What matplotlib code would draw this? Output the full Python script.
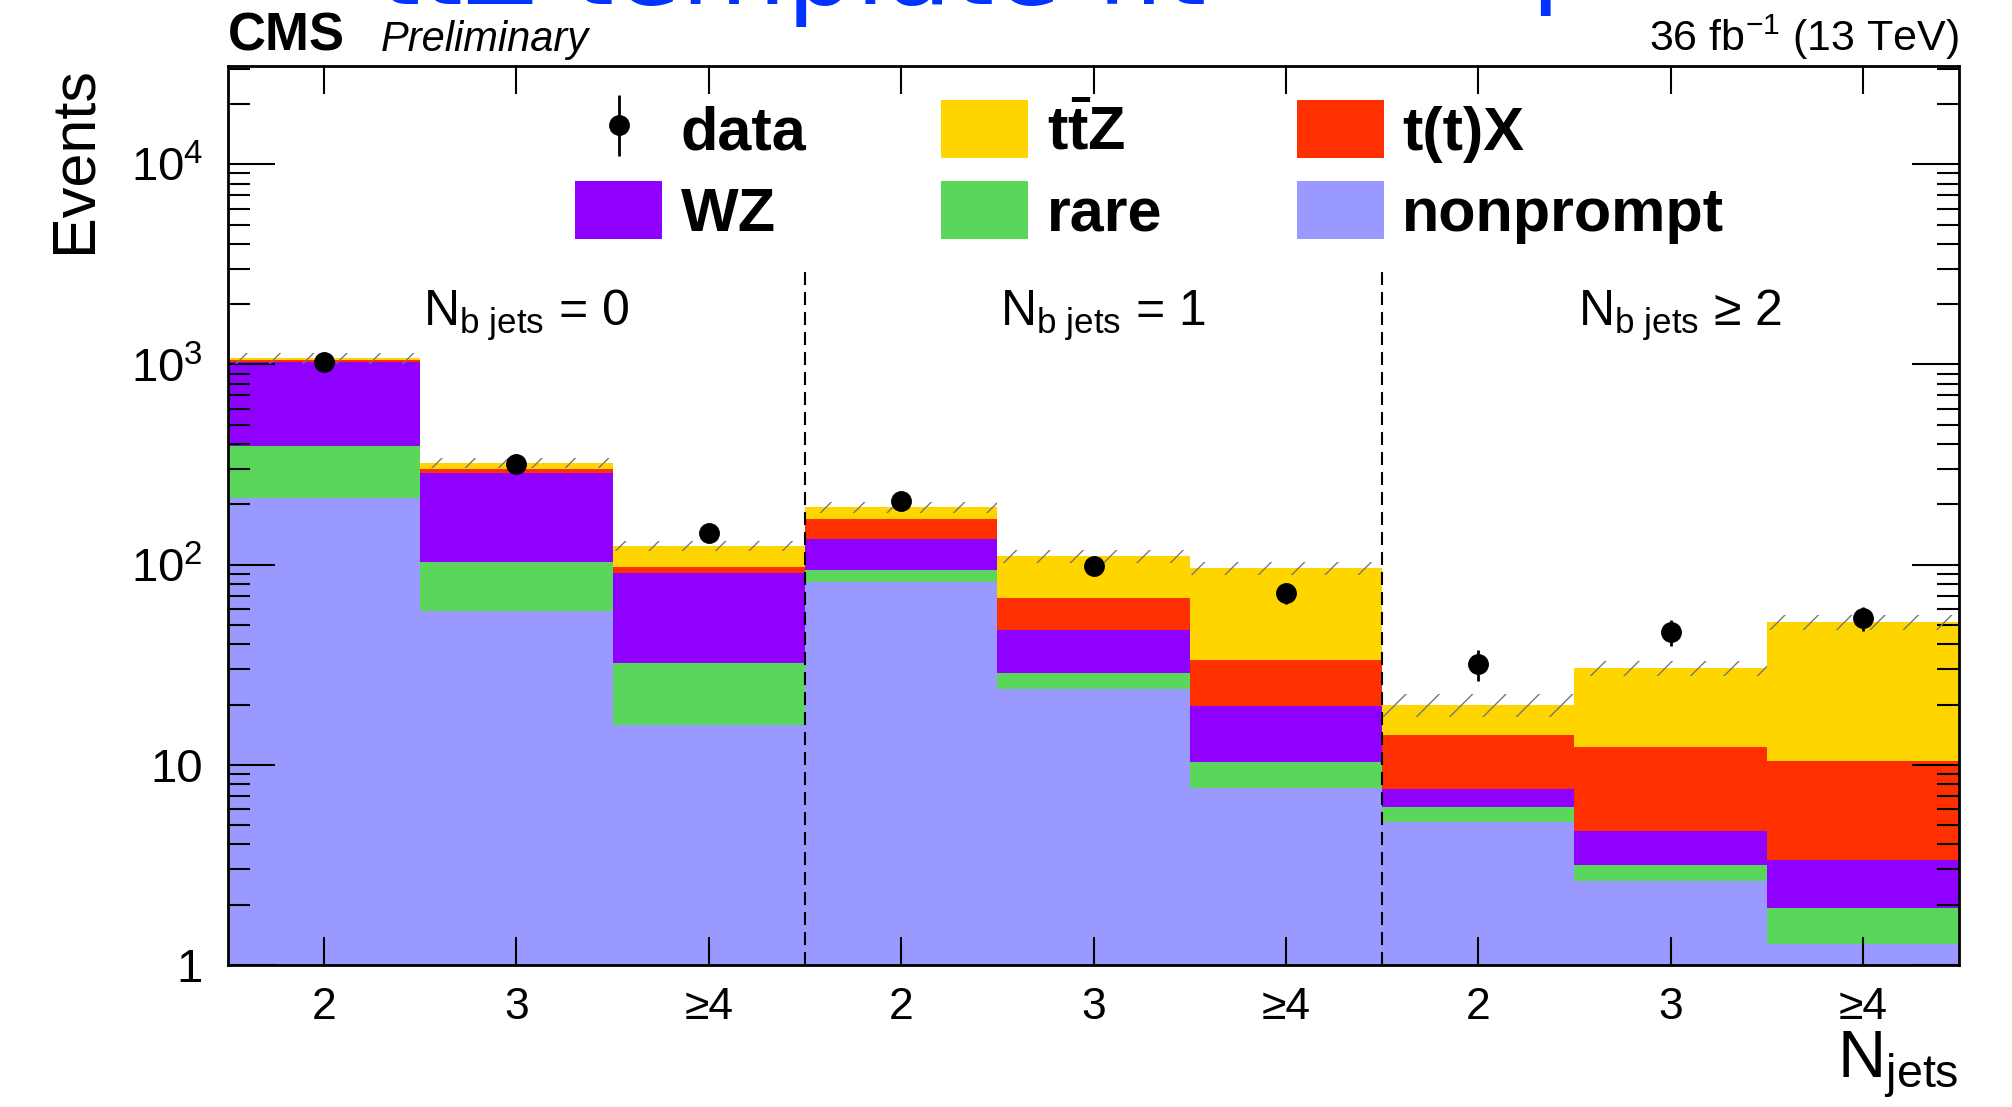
import numpy as np
import matplotlib
matplotlib.use("Agg")
import matplotlib.pyplot as plt
from matplotlib.patches import Patch
from matplotlib.transforms import blended_transform_factory

# yields per (N_b jets, N_jets) category
categories = ["2", "3", "\u22654", "2", "3", "\u22654", "2", "3", "\u22654"]
nb_labels = [r"N$_{\mathregular{b\ jets}}$ = 0",
             r"N$_{\mathregular{b\ jets}}$ = 1",
             "N$_{\\mathregular{b\\ jets}}$ \u2265 2"]

nonprompt = [216, 59, 15.8, 82, 23.9, 7.7, 5.19, 2.64, 1.28]
rare = [175, 44.5, 16.4, 12.4, 5.0, 2.65, 0.98, 0.53, 0.64]
wz = [637, 183.5, 58.8, 39.6, 18.3, 9.35, 1.39, 1.5, 1.44]
ttx = [27, 14, 6.5, 35, 21.2, 13.6, 6.54, 7.63, 7.04]
ttz = [17, 21, 26.5, 24.5, 41.6, 62.7, 5.8, 18.1, 41.3]
rel_unc = [0.06, 0.06, 0.06, 0.06, 0.07, 0.08, 0.13, 0.09, 0.09]
data = [1030, 318, 144, 209, 99, 72, 32, 46, 54]

colors = {"nonprompt": "#9999ff", "rare": "#5ad65a", "WZ": "#8f00ff",
          "t(t)X": "#ff3000", "ttZ": "#ffd500"}

plt.rcParams["font.family"] = ["Liberation Sans", "DejaVu Sans"]
plt.rcParams["mathtext.fontset"] = "custom"
plt.rcParams["mathtext.rm"] = "Liberation Sans"
plt.rcParams["mathtext.it"] = "Liberation Sans:italic"
plt.rcParams["mathtext.bf"] = "Liberation Sans:bold"
plt.rcParams["mathtext.default"] = "regular"
plt.rcParams["hatch.linewidth"] = 1.0

fig = plt.figure(figsize=(20.12, 11.07), dpi=100)
ax = fig.add_axes([0.1133, 0.1283, 0.8604, 0.8121])

x = np.arange(len(categories))
stack = [("nonprompt", nonprompt), ("rare", rare), ("WZ", wz),
         ("t(t)X", ttx), ("ttZ", ttz)]
bottom = np.zeros(len(x))
for name, vals in stack:
    ax.bar(x, vals, width=1.0, bottom=bottom, color=colors[name],
           linewidth=0, zorder=1)
    bottom = bottom + np.array(vals)
total = bottom

# uncertainty band on the total prediction
unc = total * np.array(rel_unc)
ax.bar(x, 2 * unc, width=1.0, bottom=total - unc, fill=False, hatch="/",
       edgecolor="#777777", linewidth=0, zorder=2)

data_err = np.sqrt(data)
eb = ax.errorbar(x, data, yerr=data_err, fmt="o", color="black", ms=14,
                 elinewidth=2, capsize=0, zorder=4)

# separators between b-jet categories
for xs in (2.5, 5.5):
    ax.axvline(xs, ymin=0, ymax=0.774, color="black", lw=1.5,
               linestyle=(0, (6.2, 3.4)), zorder=3)

trans = blended_transform_factory(ax.transData, ax.transAxes)
for xc, lab in zip((1, 4, 7), nb_labels):
    ax.text(xc + 0.05, 0.722, lab, transform=trans, ha="center",
            va="center", fontsize=36)

ax.set_yscale("log")
ax.set_xlim(-0.5, 8.5)
ax.set_ylim(1, 3.1e4)
ax.set_xticks(x)
ax.set_xticklabels(categories)
ax.set_yticks([1, 10, 100, 1000, 10000])
ax.set_yticklabels(["1", "10", "10$^{2}$", "10$^{3}$", "10$^{4}$"])
ax.tick_params(axis="x", which="major", direction="in", top=True,
               length=20, width=1.5, labelsize=32, pad=16)
ax.tick_params(axis="x", which="minor", bottom=False, top=False)
ax.tick_params(axis="y", which="major", direction="in", right=True,
               length=34, width=1.5, labelsize=34, pad=18)
ax.tick_params(axis="y", which="minor", direction="in", right=True,
               length=16, width=1.5)
for sp in ax.spines.values():
    sp.set_linewidth(2)
    sp.set_zorder(5)

ax.set_ylabel("Events", fontsize=44, loc="top")
ax.yaxis.set_label_coords(-0.072, 1.0)
ax.set_xlabel(r"N$_{\mathregular{jets}}$", fontsize=48, loc="right")
ax.xaxis.set_label_coords(1.0, -0.072)

ax.text(0.0, 1.017, "CMS", transform=ax.transAxes, fontsize=38,
        fontweight="bold", va="baseline", ha="left")
ax.text(0.088, 1.017, "Preliminary", transform=ax.transAxes, fontsize=30,
        style="italic", va="baseline", ha="left")
ax.text(1.0, 1.017, "36 fb$^{-1}$ (13 TeV)", transform=ax.transAxes,
        fontsize=31, va="baseline", ha="right")

fig.text(0.188, 0.9964, "ttZ template fit", color="#0033ff", fontsize=78,
         family="DejaVu Sans", va="baseline", ha="left")
fig.text(0.7605, 1.006, "postfit", color="#0033ff", fontsize=78,
         family="DejaVu Sans", va="baseline", ha="left")

handles = [eb,
           Patch(color=colors["WZ"], lw=0),
           Patch(color=colors["ttZ"], lw=0),
           Patch(color=colors["rare"], lw=0),
           Patch(color=colors["t(t)X"], lw=0),
           Patch(color=colors["nonprompt"], lw=0)]
labels = ["data", "WZ", r"t$\bar{\mathregular{t}}$Z", "rare", "t(t)X",
          "nonprompt"]
ax.legend(handles, labels, ncol=3, loc="upper left",
          bbox_to_anchor=(0.2005, 0.962), frameon=False,
          prop={"size": 44, "weight": "bold"}, handlelength=1.43,
          handleheight=1.085, handletextpad=0.3, columnspacing=2.2,
          labelspacing=0.3, borderpad=0, borderaxespad=0)

fig.savefig("out.png", dpi=100)
